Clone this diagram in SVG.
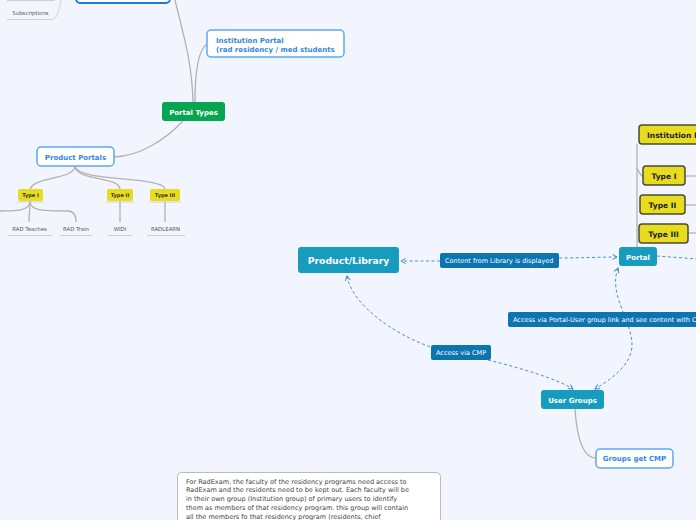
<svg xmlns="http://www.w3.org/2000/svg" width="696" height="520" viewBox="0 0 696 520">
<defs>
<style>
.bg{fill:#f2f5fd}
.teal{fill:#179cc0}
.lbl{fill:#0c74b1}
.wb{fill:#ffffff;stroke:#5ca8f5;stroke-width:1.5}
.yl{fill:#e8dc1e}
.yr{fill:#e8dc1e;stroke:#4a4a3a;stroke-width:1.5}
.g{fill:none;stroke:#b2b2b2;stroke-width:1.3}
.ul{fill:none;stroke:#cfd0d4;stroke-width:1}
.d{fill:none;stroke:#4a8fd4;stroke-width:1;stroke-dasharray:3 2.5}
text{font-family:"DejaVu Sans","Liberation Sans",sans-serif}
.tw{fill:#ffffff;font-weight:bold;font-size:7px;text-anchor:middle}
.tb{fill:#3388e4;font-weight:bold;font-size:7px}
.tl{fill:#ffffff;font-size:6.5px}
.tk{fill:#222222;font-weight:bold;font-size:7.5px}
.ts{fill:#555555;font-size:5.4px;text-anchor:middle}
.ty{fill:#333333;font-weight:bold;font-size:5px;text-anchor:middle}
.tp{fill:#444444;font-size:6.5px}
</style>
<marker id="ah" viewBox="0 0 6 6" refX="5" refY="3" markerWidth="6" markerHeight="6" markerUnits="userSpaceOnUse" orient="auto-start-reverse">
<path d="M0.5,0.5 L5,3 L0.5,5.5" fill="none" stroke="#3f8ad0" stroke-width="1"/>
</marker>
</defs>
<rect class="bg" x="0" y="0" width="696" height="520"/>

<g id="connectors">
<path class="g" d="M175,0 C182,30 192,60 193,102"/>
<path class="g" d="M207,44 C198,50 195,75 195,102"/>
<path class="g" d="M114,157 C140,156 165,140 183,121"/>
<path class="g" d="M75,166 C75,180 32,176 30,190"/>
<path class="g" d="M75,166 C76,181 118,176 120,189"/>
<path class="g" d="M75,166 C76,182 163,176 165,189"/>
<path class="g" d="M30,201 C30,210 29,214 29,222"/>
<path class="g" d="M30,201 C30,210 20,211 0,211"/>
<path class="g" d="M30,201 C30,210 40,211 68,211 C74,211 76,215 76,222"/>
<path class="g" d="M120,201 V222"/>
<path class="g" d="M165,201 V222"/>
<path class="g" d="M637,144 V247" stroke-width="1.6"/>
<path class="g" d="M637,168 C640,174 641,176 643,176"/>
<path class="g" d="M685,176 H696"/>
<path class="g" d="M685,205 H696"/>
<path class="g" d="M688,233 H696"/>
<path class="g" d="M575,409 C577,440 584,458 596,458"/>
<path class="d" d="M440,261 H401" marker-end="url(#ah)"/>
<path class="d" d="M559,258 C580,258 600,257 617,257" marker-end="url(#ah)"/>
<path class="d" d="M657,256 C670,257 685,258 696,259"/>
<path class="d" d="M618,268 C608,295 632,320 632,345 C632,365 610,380 595,389" marker-start="url(#ah)" marker-end="url(#ah)"/>
<path class="d" d="M347,276 C352,305 395,335 431,347" marker-start="url(#ah)"/>
<path class="d" d="M488,360 C520,368 555,378 573,389" marker-end="url(#ah)"/>
</g>

<g id="top-box">
<rect x="76" y="-20" width="94" height="23" rx="4" fill="#ffffff" stroke="#2277dd" stroke-width="1.8"/>
</g>
<g id="subscriptions">
<path class="ul" d="M7,0.5 H55"/>
<path class="ul" d="M7,19.5 H52 C57,19.5 59,10 61,0"/>
<text x="30.5" y="15" class="ts" fill="#444">Subscriptions</text>
</g>
<g id="institution-portal">
<rect class="wb" x="207" y="30" width="137" height="27" rx="4"/>
<text x="216" y="42.5" class="tb">Institution Portal</text>
<text x="216" y="51.5" class="tb">(rad residency / med students</text>
</g>
<g id="portal-types">
<rect x="162" y="102" width="63" height="19" rx="3" fill="#06a650"/>
<text x="193.5" y="114.5" class="tw">Portal Types</text>
</g>
<g id="product-portals">
<rect class="wb" x="37" y="147" width="77" height="19" rx="4"/>
<text x="75.5" y="159.5" class="tb" text-anchor="middle">Product Portals</text>
</g>
<g id="type1-left">
<rect class="yl" x="18" y="189" width="25" height="12" rx="2"/>
<text x="30.5" y="197" class="ty">Type I</text>
<path class="ul" d="M17,202 H44"/>
</g>
<g id="type2-left">
<rect class="yl" x="107" y="189" width="26" height="12" rx="2"/>
<text x="120" y="197" class="ty">Type II</text>
<path class="ul" d="M106,202 H134"/>
</g>
<g id="type3-left">
<rect class="yl" x="150" y="189" width="30" height="12" rx="2"/>
<text x="165" y="197" class="ty">Type III</text>
<path class="ul" d="M149,202 H181"/>
</g>
<g id="rad-teaches">
<text x="29.5" y="231" class="ts">RAD Teaches</text>
<path class="ul" d="M8,235.5 H52"/>
</g>
<g id="rad-train">
<text x="76" y="231" class="ts">RAD Train</text>
<path class="ul" d="M60,235.5 H92"/>
</g>
<g id="widi">
<text x="120" y="231" class="ts">WIDI</text>
<path class="ul" d="M108,235.5 H132"/>
</g>
<g id="radlearn">
<text x="165.5" y="231" class="ts">RADLEARN</text>
<path class="ul" d="M147,235.5 H185"/>
</g>
<g id="institution-p-right">
<rect class="yr" x="639" y="125" width="70" height="19" rx="3"/>
<text x="647" y="137.5" class="tk">Institution Portal</text>
</g>
<g id="type1-right">
<rect class="yr" x="643" y="166" width="42" height="19" rx="3"/>
<text x="664" y="178.5" class="tk" text-anchor="middle">Type I</text>
</g>
<g id="type2-right">
<rect class="yr" x="640" y="195" width="45" height="19" rx="3"/>
<text x="662.5" y="207.5" class="tk" text-anchor="middle">Type II</text>
</g>
<g id="type3-right">
<rect class="yr" x="639" y="224" width="49" height="19" rx="3"/>
<text x="663.5" y="236.5" class="tk" text-anchor="middle">Type III</text>
</g>
<g id="portal">
<rect class="teal" x="619" y="247" width="38" height="19" rx="3"/>
<text x="638" y="259.5" class="tw">Portal</text>
</g>
<g id="product-library">
<rect class="teal" x="298" y="247" width="101" height="26" rx="3"/>
<text x="348.5" y="263.5" class="tw" font-size="9.3px" style="font-size:9.3px">Product/Library</text>
</g>
<g id="label-content">
<rect class="lbl" x="440" y="253" width="119" height="15" rx="2"/>
<text x="445" y="263" class="tl">Content from Library is displayed</text>
</g>
<g id="label-access-portal">
<rect class="lbl" x="508" y="312" width="200" height="15" rx="2"/>
<text x="513" y="322" class="tl">Access via Portal-User group link and see content with CMP</text>
</g>
<g id="label-access-cmp">
<rect class="lbl" x="431" y="345" width="60" height="15" rx="2"/>
<text x="436" y="355" class="tl">Access via CMP</text>
</g>
<g id="user-groups">
<rect class="teal" x="541" y="390" width="63" height="19" rx="3"/>
<text x="572.5" y="402.5" class="tw">User Groups</text>
</g>
<g id="groups-get-cmp">
<rect class="wb" x="596" y="449" width="77" height="19" rx="4"/>
<text x="634.5" y="461" class="tb" text-anchor="middle">Groups get CMP</text>
</g>
<g id="note">
<rect x="177.5" y="472.5" width="263" height="60" rx="4" fill="#ffffff" stroke="#bbbbbb" stroke-width="1"/>
<text class="tp" x="186" y="483.5">For RadExam, the faculty of the residency programs need access to</text>
<text class="tp" x="186" y="492.3">RadExam and the residents need to be kept out.  Each faculty will be</text>
<text class="tp" x="186" y="501.1">in their own group (Institution group) of primary users to identify</text>
<text class="tp" x="186" y="509.9">them as members of that residency program.  this group will contain</text>
<text class="tp" x="186" y="518.7">all the members fo that residency program (residents, chief</text>
</g>
</svg>
